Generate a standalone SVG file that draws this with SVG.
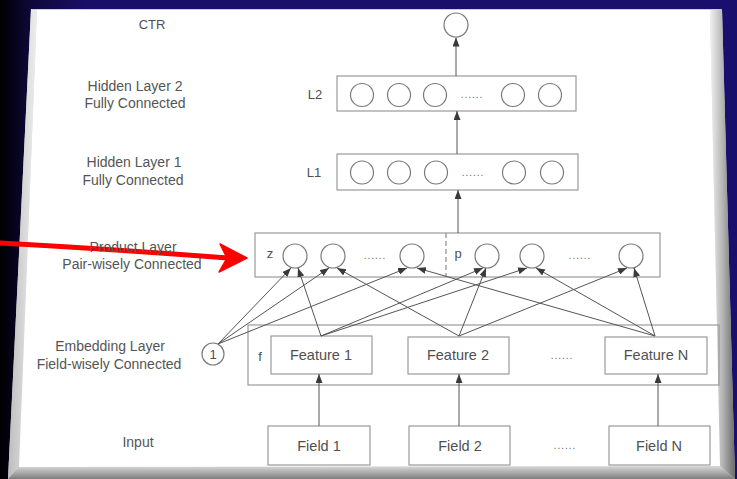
<svg xmlns="http://www.w3.org/2000/svg" width="737" height="479" viewBox="0 0 737 479">
<defs>
<linearGradient id="bg" x1="0" y1="0" x2="1" y2="0">
<stop offset="0" stop-color="#000000"/>
<stop offset="0.04" stop-color="#0d0838"/>
<stop offset="0.12" stop-color="#1a0f68"/>
<stop offset="1" stop-color="#1a0f6c"/>
</linearGradient>
<linearGradient id="rb" x1="0" y1="0" x2="1" y2="0">
<stop offset="0" stop-color="#f2f2f2"/>
<stop offset="0.5" stop-color="#b5b5b5"/>
<stop offset="1" stop-color="#6a6a6a"/>
</linearGradient>
<linearGradient id="bb" x1="0" y1="0" x2="0" y2="1">
<stop offset="0" stop-color="#d9d9d9"/>
<stop offset="1" stop-color="#7d7d7d"/>
</linearGradient>
<linearGradient id="lb" x1="0" y1="0" x2="1" y2="0">
<stop offset="0" stop-color="#bdbdbd"/>
<stop offset="1" stop-color="#eeeeee"/>
</linearGradient>
<marker id="ah" markerWidth="9" markerHeight="7" refX="9" refY="3.5" orient="auto" markerUnits="userSpaceOnUse">
<path d="M0,0 L9,3.5 L0,7 z" fill="#3a3a3a"/>
</marker>
<style>
.box{fill:none;stroke:#9a9a9a;stroke-width:1.2}
.nbox{fill:#ffffff;stroke:#9a9a9a;stroke-width:1.2}
.cir{fill:#ffffff;stroke:#7a7a7a;stroke-width:1.2}
.lbl{font-family:"Liberation Sans",Arial,sans-serif;font-size:14px;fill:#555555;text-anchor:middle}
.nt{font-family:"Liberation Sans",Arial,sans-serif;font-size:14.5px;fill:#505050;text-anchor:middle}
.sm{font-family:"Liberation Sans",Arial,sans-serif;font-size:13px;fill:#505050;text-anchor:middle}
.dots{font-family:"Liberation Sans",Arial,sans-serif;font-size:10px;fill:#666666;text-anchor:middle;letter-spacing:1px}
.ln{stroke:#555555;stroke-width:1;fill:none;marker-end:url(#ah)}
</style>
</defs>

<!-- background -->
<rect x="0" y="0" width="737" height="479" fill="url(#bg)"/>

<!-- sheet -->
<g id="sheet">
<polygon points="31,9 722,9 735,479 8,479" fill="#c8c8c8"/>
<polygon points="31,9 37,10 19,467 8,479" fill="url(#lb)"/>
<polygon points="710,10 722,9 735,479 720,466" fill="url(#rb)"/>
<polygon points="19,467 720,466 735,479 8,479" fill="url(#bb)"/>
<polygon points="37,10 710,10 720,466 19,467" fill="#ffffff"/>
<line x1="32" y1="9.5" x2="718" y2="9.5" stroke="#c9cbe8" stroke-width="1"/>
</g>

<!-- red pointer -->
<g id="pointer">
<path d="M0,243 Q110,249 228,258" fill="none" stroke="#ff0000" stroke-width="5"/>
<path d="M247,258 L220,244 L227,258 L219,272 Z" fill="#ff0000" stroke="#ff0000" stroke-width="1.5" stroke-linejoin="round"/>
</g>

<!-- side labels -->
<g id="labels">
<text class="sm" x="152" y="29">CTR</text>
<text class="lbl" x="135" y="91">Hidden Layer 2</text>
<text class="lbl" x="135" y="108">Fully Connected</text>
<text class="lbl" x="134" y="167">Hidden Layer 1</text>
<text class="lbl" x="133" y="185">Fully Connected</text>
<text class="lbl" x="133" y="252">Product Layer</text>
<text class="lbl" x="132" y="269">Pair-wisely Connected</text>
<text class="lbl" x="110" y="351">Embedding Layer</text>
<text class="lbl" x="109" y="369">Field-wisely Connected</text>
<text class="lbl" x="138" y="447">Input</text>
</g>

<!-- CTR node -->
<g id="ctr">
<circle class="cir" cx="456" cy="25" r="12"/>
</g>

<!-- Hidden layer 2 -->
<g id="l2">
<text class="sm" x="315" y="99">L2</text>
<rect class="box" x="337" y="76" width="239" height="35"/>
<circle class="cir" cx="362" cy="95" r="11.5"/>
<circle class="cir" cx="399" cy="95" r="11.5"/>
<circle class="cir" cx="435" cy="95" r="11.5"/>
<text class="dots" x="472" y="98">......</text>
<circle class="cir" cx="513" cy="95" r="11.5"/>
<circle class="cir" cx="550" cy="95" r="11.5"/>
</g>

<!-- Hidden layer 1 -->
<g id="l1">
<text class="sm" x="314" y="177">L1</text>
<rect class="box" x="337" y="154" width="241" height="36"/>
<circle class="cir" cx="362" cy="172.5" r="11.5"/>
<circle class="cir" cx="399" cy="172.5" r="11.5"/>
<circle class="cir" cx="436" cy="172.5" r="11.5"/>
<text class="dots" x="473" y="176">......</text>
<circle class="cir" cx="514" cy="172.5" r="11.5"/>
<circle class="cir" cx="552" cy="172.5" r="11.5"/>
</g>

<!-- Product layer -->
<g id="product">
<rect class="box" x="255" y="233" width="405" height="44"/>
<line x1="446" y1="233" x2="446" y2="277" stroke="#8a8a8a" stroke-width="1.2" stroke-dasharray="5,3"/>
<text class="sm" x="270" y="258">z</text>
<circle class="cir" cx="295" cy="256" r="12"/>
<circle class="cir" cx="333" cy="256" r="12"/>
<text class="dots" x="375" y="259">......</text>
<circle class="cir" cx="412" cy="256" r="12"/>
<text class="sm" x="458" y="258">p</text>
<circle class="cir" cx="487" cy="256" r="12"/>
<circle class="cir" cx="532" cy="256" r="12"/>
<text class="dots" x="580" y="259">......</text>
<circle class="cir" cx="631" cy="256" r="12"/>
</g>

<!-- constant node -->
<g id="one">
<circle class="cir" cx="213" cy="354" r="11"/>
<text class="sm" x="213" y="359">1</text>
</g>

<!-- Embedding layer -->
<g id="embedding">
<rect class="box" x="248" y="325" width="471" height="60"/>
<text class="sm" x="260" y="361">f</text>
<text class="dots" x="562" y="359">......</text>
</g>
<g id="feature1">
<rect class="nbox" x="271" y="336" width="101" height="38"/>
<text class="nt" x="321" y="360">Feature 1</text>
</g>
<g id="feature2">
<rect class="nbox" x="408" y="337" width="101" height="37"/>
<text class="nt" x="458" y="360">Feature 2</text>
</g>
<g id="featureN">
<rect class="nbox" x="605" y="337" width="102" height="37"/>
<text class="nt" x="656" y="360">Feature N</text>
</g>

<!-- Input -->
<g id="field1">
<rect class="nbox" x="268" y="426" width="102" height="39"/>
<text class="nt" x="319" y="451">Field 1</text>
</g>
<g id="field2">
<rect class="nbox" x="409" y="426" width="101" height="39"/>
<text class="nt" x="460" y="451">Field 2</text>
</g>
<text class="dots" x="565" y="449">......</text>
<g id="fieldN">
<rect class="nbox" x="609" y="426" width="101" height="39"/>
<text class="nt" x="659" y="451">Field N</text>
</g>

<!-- connectors -->
<g id="connectors">
<line class="ln" x1="456" y1="76" x2="456" y2="37.5"/>
<line class="ln" x1="457" y1="154" x2="457" y2="111"/>
<line class="ln" x1="458" y1="233" x2="458" y2="190"/>
<line class="ln" x1="319" y1="426" x2="319" y2="374"/>
<line class="ln" x1="459" y1="426" x2="459" y2="374"/>
<line class="ln" x1="658" y1="426" x2="658" y2="374"/>

<line class="ln" x1="218" y1="344" x2="291" y2="268"/>
<line class="ln" x1="218" y1="344" x2="329" y2="268"/>
<line class="ln" x1="218" y1="344" x2="407" y2="268"/>

<line class="ln" x1="321" y1="336" x2="298" y2="268"/>
<line class="ln" x1="321" y1="336" x2="483" y2="268"/>
<line class="ln" x1="321" y1="336" x2="527" y2="268"/>

<line class="ln" x1="459" y1="336" x2="337" y2="268"/>
<line class="ln" x1="459" y1="336" x2="486" y2="268"/>
<line class="ln" x1="459" y1="336" x2="627" y2="268"/>

<line class="ln" x1="655" y1="336" x2="417" y2="268"/>
<line class="ln" x1="655" y1="336" x2="536" y2="268"/>
<line class="ln" x1="655" y1="336" x2="634" y2="268"/>
</g>
</svg>
